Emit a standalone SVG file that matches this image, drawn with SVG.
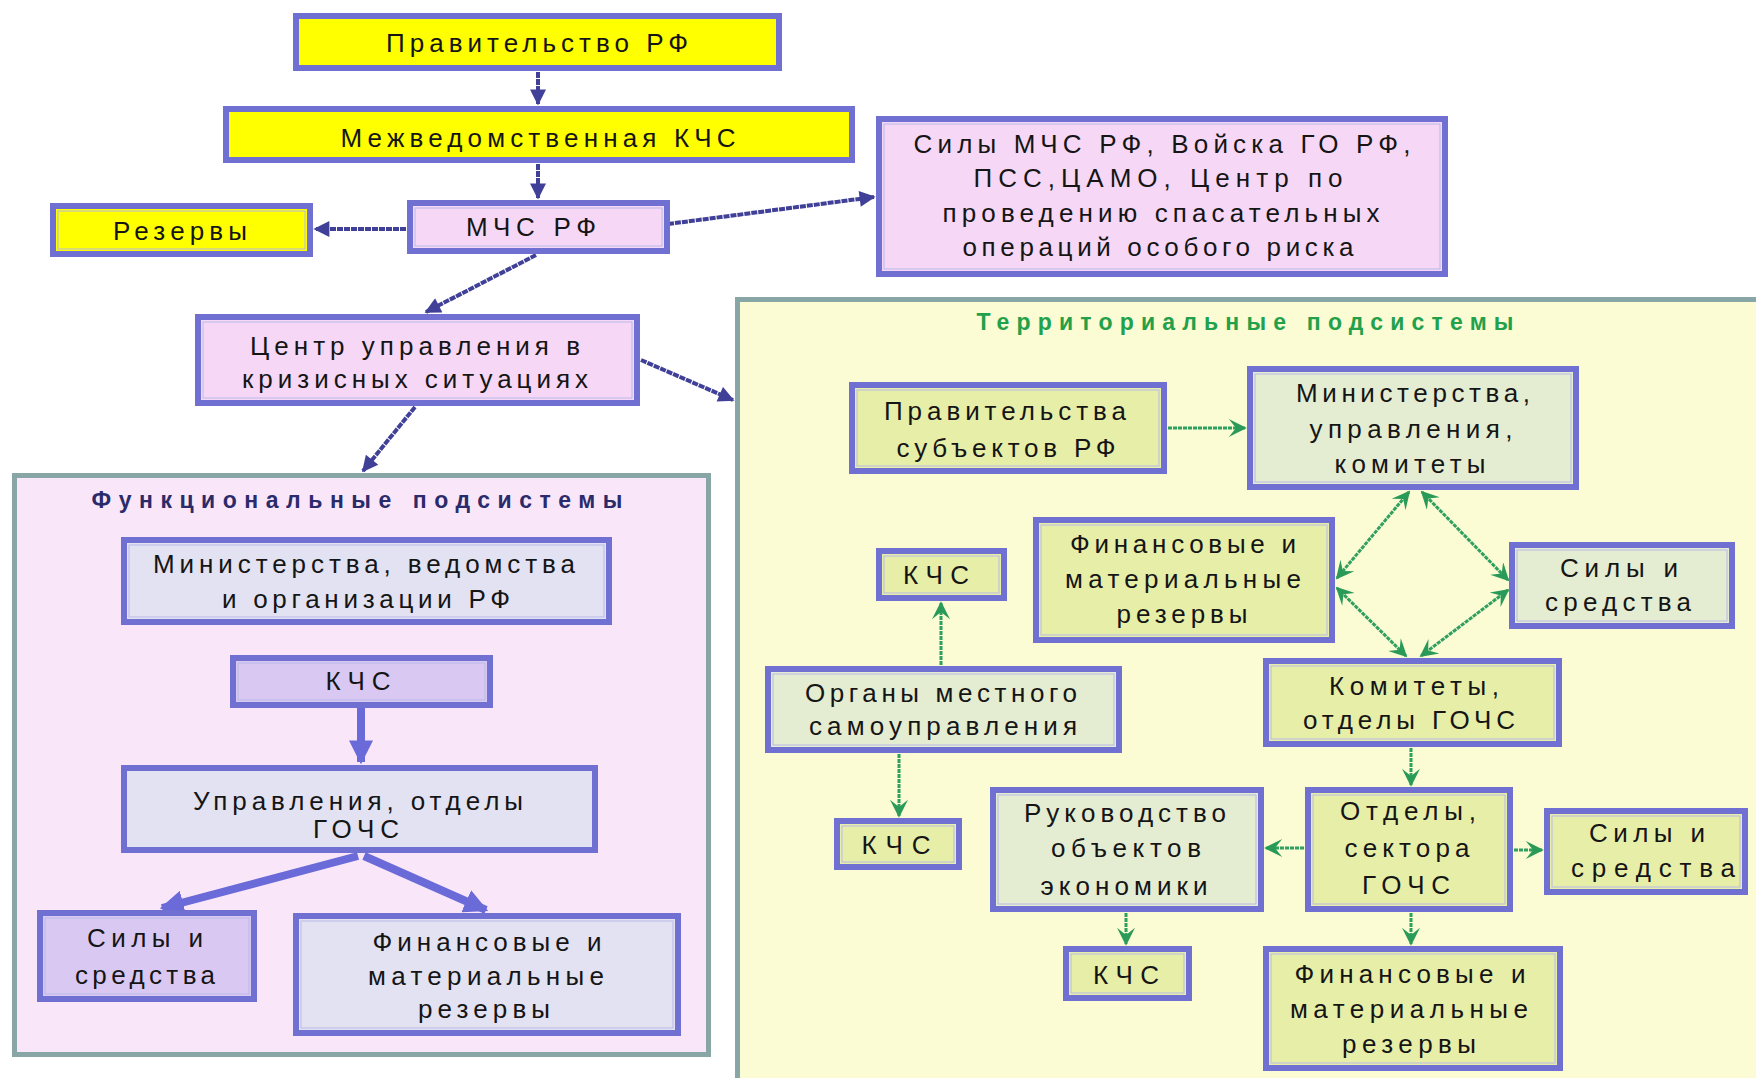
<svg xmlns="http://www.w3.org/2000/svg" width="1756" height="1078" viewBox="0 0 1756 1078">
<style>
.t{font-family:"Liberation Sans",Arial,sans-serif;font-size:26px;fill:#151515;text-anchor:middle}
.ttl{font-family:"Liberation Sans",Arial,sans-serif;font-size:23px;font-weight:bold;text-anchor:middle}
.box{stroke:#7070d2;stroke-width:6}
.inner{fill:none;stroke:#b8b8e8;stroke-width:1}
.yel{fill:#ffff00}
.pink{fill:#f6d8f6}
.blue{fill:#e2e2f2}
.lav{fill:#d9c9f2}
.yg{fill:#e6eea8}
.gg{fill:#e4ecd2}
.cont{stroke:#88a6a6;stroke-width:5}
.nav{stroke:#404098;stroke-width:4;fill:none;stroke-dasharray:6 1}
.pur{stroke:#6a6ad8;stroke-width:8;fill:none}
.grn{stroke:#30a060;stroke-width:3;fill:none;stroke-dasharray:4 1}
</style>
<defs>
<marker id="an" viewBox="0 0 10 10" refX="9" refY="5" markerWidth="18" markerHeight="16" markerUnits="userSpaceOnUse" orient="auto"><path d="M0,0 L10,5 L0,10 z" fill="#404098"/></marker>
<marker id="ap" viewBox="0 0 10 10" refX="9" refY="5" markerWidth="24" markerHeight="24" markerUnits="userSpaceOnUse" orient="auto"><path d="M0,0 L10,5 L0,10 z" fill="#6a6ad8"/></marker>
<marker id="ag" viewBox="0 0 10 10" refX="9" refY="5" markerWidth="20" markerHeight="18" markerUnits="userSpaceOnUse" orient="auto-start-reverse"><path d="M0,0 L10,5 L0,10 L4,5 z" fill="#2a9a58"/></marker>
</defs>

<rect width="1756" height="1078" fill="#ffffff"/>

<!-- containers -->
<g id="func-container">
<rect class="cont" x="14.5" y="475.5" width="694" height="579" fill="#f9e7f9"/>
<text class="ttl" x="357" y="508" fill="#2b2b6b" textLength="531" lengthAdjust="spacing">Функциональные  подсистемы</text>
</g>
<g id="terr-container">
<rect class="cont" x="737.5" y="299.5" width="1030" height="790" fill="#fbfbd4"/>
<text class="ttl" x="1245" y="330" fill="#22a04a" textLength="537" lengthAdjust="spacing">Территориальные  подсистемы</text>
</g>

<!-- connectors -->
<g id="connectors">
<line class="nav" x1="538" y1="72" x2="538" y2="104" marker-end="url(#an)"/>
<line class="nav" x1="538" y1="164" x2="538" y2="198" marker-end="url(#an)"/>
<line class="nav" x1="406" y1="229" x2="315" y2="229" marker-end="url(#an)"/>
<line class="nav" x1="668" y1="224" x2="874" y2="197" marker-end="url(#an)"/>
<line class="nav" x1="536" y1="255" x2="426" y2="312" marker-end="url(#an)"/>
<line class="nav" x1="415" y1="407" x2="363" y2="471" marker-end="url(#an)"/>
<line class="nav" x1="641" y1="360" x2="733" y2="400" marker-end="url(#an)"/>
<line class="pur" x1="361" y1="708" x2="361" y2="762" marker-end="url(#ap)"/>
<line class="pur" x1="358" y1="856" x2="162" y2="908" marker-end="url(#ap)"/>
<line class="pur" x1="364" y1="856" x2="486" y2="910" marker-end="url(#ap)"/>
<line class="grn" x1="1168" y1="428" x2="1245" y2="428" marker-end="url(#ag)"/>
<line class="grn" x1="1409" y1="492" x2="1337" y2="578" marker-start="url(#ag)" marker-end="url(#ag)"/>
<line class="grn" x1="1422" y1="492" x2="1508" y2="580" marker-start="url(#ag)" marker-end="url(#ag)"/>
<line class="grn" x1="1337" y1="588" x2="1406" y2="656" marker-start="url(#ag)" marker-end="url(#ag)"/>
<line class="grn" x1="1508" y1="590" x2="1421" y2="656" marker-start="url(#ag)" marker-end="url(#ag)"/>
<line class="grn" x1="941" y1="665" x2="941" y2="603" marker-end="url(#ag)"/>
<line class="grn" x1="899" y1="754" x2="899" y2="816" marker-end="url(#ag)"/>
<line class="grn" x1="1411" y1="748" x2="1411" y2="785" marker-end="url(#ag)"/>
<line class="grn" x1="1304" y1="848" x2="1266" y2="848" marker-end="url(#ag)"/>
<line class="grn" x1="1514" y1="850" x2="1542" y2="850" marker-end="url(#ag)"/>
<line class="grn" x1="1126" y1="913" x2="1126" y2="944" marker-end="url(#ag)"/>
<line class="grn" x1="1411" y1="913" x2="1411" y2="944" marker-end="url(#ag)"/>
</g>

<!-- top nodes -->
<g id="gov">
<rect class="box yel" x="296" y="16" width="483" height="52"/>
<text class="t" x="537" y="52" textLength="302" lengthAdjust="spacing">Правительство РФ</text>
</g>
<g id="mezh">
<rect class="box yel" x="226" y="109" width="626" height="51"/>
<text class="t" x="538" y="147" textLength="395" lengthAdjust="spacing">Межведомственная КЧС</text>
</g>
<g id="rezervy">
<rect class="box yel" x="53" y="206" width="257" height="48"/>
<rect class="inner" x="58" y="211" width="247" height="38"/>
<text class="t" x="180" y="240" textLength="134" lengthAdjust="spacing">Резервы</text>
</g>
<g id="mchs">
<rect class="box pink" x="410" y="203" width="257" height="48"/>
<rect class="inner" x="415" y="208" width="247" height="38"/>
<text class="t" x="531" y="236" textLength="130" lengthAdjust="spacing">МЧС РФ</text>
</g>
<g id="sily-mchs">
<rect class="box pink" x="879" y="119" width="566" height="155"/>
<rect class="inner" x="884" y="124" width="556" height="145"/>
<text class="t" x="1162" y="153" textLength="497" lengthAdjust="spacing">Силы МЧС РФ, Войска ГО РФ,</text>
<text class="t" x="1158" y="187" textLength="369" lengthAdjust="spacing">ПСС,ЦАМО, Центр по</text>
<text class="t" x="1161" y="222" textLength="437" lengthAdjust="spacing">проведению  спасательных</text>
<text class="t" x="1158" y="256" textLength="391" lengthAdjust="spacing">операций особого риска</text>
</g>
<g id="centr">
<rect class="box pink" x="198" y="317" width="439" height="86"/>
<rect class="inner" x="203" y="322" width="429" height="76"/>
<text class="t" x="415" y="355" textLength="330" lengthAdjust="spacing">Центр управления  в</text>
<text class="t" x="415" y="388" textLength="346" lengthAdjust="spacing">кризисных ситуациях</text>
</g>

<!-- functional nodes -->
<g id="f-min">
<rect class="box blue" x="124" y="540" width="485" height="82"/>
<rect class="inner" x="129" y="545" width="475" height="72"/>
<text class="t" x="364" y="573" textLength="422" lengthAdjust="spacing">Министерства, ведомства</text>
<text class="t" x="366" y="608" textLength="288" lengthAdjust="spacing">и организации РФ</text>
</g>
<g id="f-kchs">
<rect class="box lav" x="233" y="658" width="257" height="47"/>
<rect class="inner" x="238" y="663" width="247" height="37"/>
<text class="t" x="358" y="690" textLength="65" lengthAdjust="spacing">КЧС</text>
</g>
<g id="f-upr">
<rect class="box blue" x="124" y="768" width="471" height="82" stroke-width="8"/>
<text class="t" x="358" y="810" textLength="330" lengthAdjust="spacing">Управления, отделы</text>
<text class="t" x="356" y="838" textLength="86" lengthAdjust="spacing">ГОЧС</text>
</g>
<g id="f-sily">
<rect class="box lav" x="40" y="913" width="214" height="86"/>
<rect class="inner" x="45" y="918" width="204" height="76"/>
<text class="t" x="145" y="947" textLength="116" lengthAdjust="spacing">Силы  и</text>
<text class="t" x="145" y="984" textLength="140" lengthAdjust="spacing">средства</text>
</g>
<g id="f-fin">
<rect class="box blue" x="296" y="916" width="382" height="117"/>
<rect class="inner" x="301" y="921" width="372" height="107"/>
<text class="t" x="487" y="951" textLength="229" lengthAdjust="spacing">Финансовые и</text>
<text class="t" x="486" y="985" textLength="236" lengthAdjust="spacing">материальные</text>
<text class="t" x="484" y="1018" textLength="132" lengthAdjust="spacing">резервы</text>
</g>

<!-- territorial nodes -->
<g id="t-prav">
<rect class="box yg" x="852" y="385" width="312" height="86"/>
<rect class="inner" x="857" y="390" width="302" height="76"/>
<text class="t" x="1005" y="420" textLength="242" lengthAdjust="spacing">Правительства</text>
<text class="t" x="1006" y="457" textLength="219" lengthAdjust="spacing">субъектов  РФ</text>
</g>
<g id="t-min">
<rect class="box gg" x="1250" y="369" width="326" height="118"/>
<rect class="inner" x="1255" y="374" width="316" height="108"/>
<text class="t" x="1413" y="402" textLength="234" lengthAdjust="spacing">Министерства,</text>
<text class="t" x="1411" y="438" textLength="203" lengthAdjust="spacing">управления,</text>
<text class="t" x="1410" y="473" textLength="151" lengthAdjust="spacing">комитеты</text>
</g>
<g id="t-fin">
<rect class="box yg" x="1036" y="520" width="296" height="120"/>
<rect class="inner" x="1041" y="525" width="286" height="110"/>
<text class="t" x="1183" y="553" textLength="226" lengthAdjust="spacing">Финансовые и</text>
<text class="t" x="1183" y="588" textLength="236" lengthAdjust="spacing">материальные</text>
<text class="t" x="1182" y="623" textLength="131" lengthAdjust="spacing">резервы</text>
</g>
<g id="t-sily1">
<rect class="box gg" x="1512" y="545" width="220" height="81"/>
<rect class="inner" x="1517" y="550" width="210" height="71"/>
<text class="t" x="1619" y="577" textLength="118" lengthAdjust="spacing">Силы  и</text>
<text class="t" x="1618" y="611" textLength="146" lengthAdjust="spacing">средства</text>
</g>
<g id="t-kchs1">
<rect class="box yg" x="879" y="551" width="125" height="47"/>
<rect class="inner" x="884" y="556" width="115" height="37"/>
<text class="t" x="936" y="584" textLength="66" lengthAdjust="spacing">КЧС</text>
</g>
<g id="t-org">
<rect class="box gg" x="768" y="669" width="351" height="81"/>
<rect class="inner" x="773" y="674" width="341" height="71"/>
<text class="t" x="941" y="702" textLength="272" lengthAdjust="spacing">Органы местного</text>
<text class="t" x="943" y="735" textLength="268" lengthAdjust="spacing">самоуправления</text>
</g>
<g id="t-kom">
<rect class="box yg" x="1266" y="661" width="293" height="83"/>
<rect class="inner" x="1271" y="666" width="283" height="73"/>
<text class="t" x="1414" y="695" textLength="170" lengthAdjust="spacing">Комитеты,</text>
<text class="t" x="1409" y="729" textLength="212" lengthAdjust="spacing">отделы ГОЧС</text>
</g>
<g id="t-ruk">
<rect class="box gg" x="993" y="790" width="268" height="119"/>
<rect class="inner" x="998" y="795" width="258" height="109"/>
<text class="t" x="1125" y="822" textLength="202" lengthAdjust="spacing">Руководство</text>
<text class="t" x="1126" y="857" textLength="150" lengthAdjust="spacing">объектов</text>
<text class="t" x="1124" y="895" textLength="167" lengthAdjust="spacing">экономики</text>
</g>
<g id="t-otd">
<rect class="box yg" x="1308" y="790" width="202" height="119"/>
<rect class="inner" x="1313" y="795" width="192" height="109"/>
<text class="t" x="1408" y="820" textLength="136" lengthAdjust="spacing">Отделы,</text>
<text class="t" x="1407" y="857" textLength="125" lengthAdjust="spacing">сектора</text>
<text class="t" x="1406" y="894" textLength="88" lengthAdjust="spacing">ГОЧС</text>
</g>
<g id="t-sily2">
<rect class="box yg" x="1547" y="811" width="198" height="81"/>
<rect class="inner" x="1552" y="816" width="188" height="71"/>
<text class="t" x="1647" y="842" textLength="116" lengthAdjust="spacing">Силы  и</text>
<text class="t" x="1653" y="877" textLength="164" lengthAdjust="spacing">средства</text>
</g>
<g id="t-kchs2">
<rect class="box yg" x="837" y="821" width="122" height="46"/>
<rect class="inner" x="842" y="826" width="112" height="36"/>
<text class="t" x="896" y="854" textLength="69" lengthAdjust="spacing">КЧС</text>
</g>
<g id="t-kchs3">
<rect class="box yg" x="1066" y="949" width="123" height="49"/>
<rect class="inner" x="1071" y="954" width="113" height="39"/>
<text class="t" x="1126" y="984" textLength="66" lengthAdjust="spacing">КЧС</text>
</g>
<g id="t-fin2">
<rect class="box yg" x="1266" y="949" width="294" height="119"/>
<rect class="inner" x="1271" y="954" width="284" height="109"/>
<text class="t" x="1410" y="983" textLength="231" lengthAdjust="spacing">Финансовые и</text>
<text class="t" x="1409" y="1018" textLength="238" lengthAdjust="spacing">материальные</text>
<text class="t" x="1409" y="1053" textLength="134" lengthAdjust="spacing">резервы</text>
</g>
</svg>
